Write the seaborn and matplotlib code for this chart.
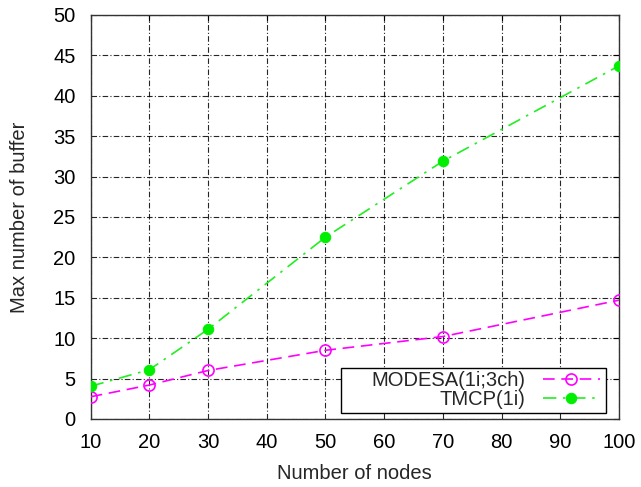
import matplotlib
matplotlib.use("Agg")
import matplotlib.pyplot as plt
from matplotlib.patches import Rectangle
import seaborn as sns
import pandas as pd

# Buffer occupancy versus network size
nodes = [10, 20, 30, 50, 70, 100]
modesa_buffer = [2.75, 4.2, 6.0, 8.5, 10.2, 14.7]
tmcp_buffer = [4.05, 6.1, 11.1, 22.5, 31.9, 43.7]
series_names = ["MODESA(1i;3ch)", "TMCP(1i)"]
x_ticks = [10, 20, 30, 40, 50, 60, 70, 80, 90, 100]
y_ticks = [0, 5, 10, 15, 20, 25, 30, 35, 40, 45, 50]

sns.set_style("white")
plt.rcParams["font.family"] = ["Liberation Sans", "DejaVu Sans"]

df_modesa = pd.DataFrame({"nodes": nodes, "buffer": modesa_buffer})
df_tmcp = pd.DataFrame({"nodes": nodes, "buffer": tmcp_buffer})

fig = plt.figure(figsize=(6.41, 4.87), dpi=100)
ax = fig.add_axes([0.1415, 0.1397, 0.8240, 0.8295])

sns.lineplot(data=df_modesa, x="nodes", y="buffer", ax=ax, color="#ff00ff",
             linewidth=1.2, linestyle=(0, (7, 4)), marker="o",
             markersize=8, markerfacecolor="none", markeredgecolor="#ff00ff",
             markeredgewidth=1.2, label=series_names[0], zorder=4)
sns.lineplot(data=df_tmcp, x="nodes", y="buffer", ax=ax, color="#22ee22",
             linewidth=1.2, linestyle=(0, (8, 4, 1.5, 4)), marker="o",
             markersize=7.5, markerfacecolor="#00ee00", markeredgecolor="#00ee00",
             label=series_names[1], zorder=4)

ax.set_xlim(10, 100)
ax.set_ylim(0, 50)
ax.set_xticks(x_ticks)
ax.set_yticks(y_ticks)
ax.set_xlabel("Number of nodes", fontsize=14.5, labelpad=9)
ax.set_ylabel("Max number of buffer", fontsize=14.5, labelpad=17)
ax.tick_params(axis="both", which="major", labelsize=14.5, direction="in",
               length=4, width=0.8, top=True, right=True, colors="black")
ax.tick_params(axis="x", pad=10)
ax.tick_params(axis="y", pad=11)

ax.grid(True, color="black", linewidth=0.8, linestyle=(0, (5, 2, 1, 2)),
        alpha=0.85)
ax.set_axisbelow(True)
for side in ax.spines.values():
    side.set_visible(True)
    side.set_color("#333333")
    side.set_linewidth(1.0)

# Key box with right-aligned labels and samples on the right
ax.add_patch(Rectangle((0.4735, 0.0156), 0.5015, 0.110, transform=ax.transAxes,
                       facecolor="white", edgecolor="black", linewidth=1.0,
                       zorder=5))
handles, labels = ax.get_legend_handles_labels()
leg = ax.legend(handles, labels, loc="center right",
                bbox_to_anchor=(0.975, 0.0706), markerfirst=False,
                fontsize=14.5, frameon=False, borderpad=0.3, handlelength=2.8,
                handletextpad=0.9, labelspacing=0.0, borderaxespad=0,
                numpoints=1)
leg.set_zorder(6)

fig.savefig("out.png", dpi=100)
